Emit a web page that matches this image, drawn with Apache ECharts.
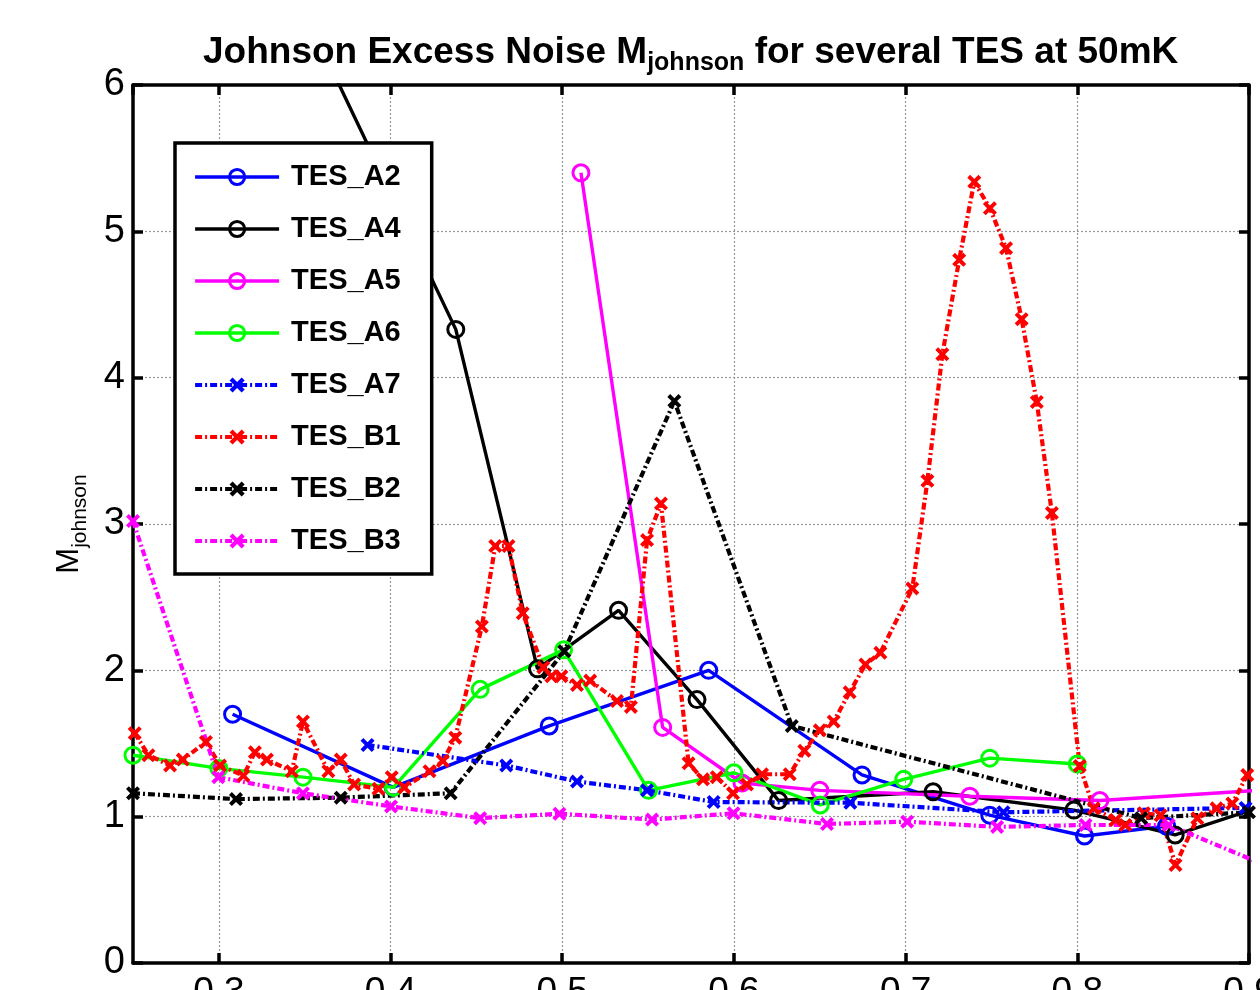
<!DOCTYPE html>
<html>
<head>
<meta charset="utf-8">
<script src="https://cdn.jsdelivr.net/npm/echarts@6/dist/echarts.min.js"></script>
<style>
  html, body { margin: 0; padding: 0; background: #ffffff; }
  #chart { width: 1260px; height: 990px; }
</style>
</head>
<body>
<div id="chart"></div>
<script>
// Johnson excess noise M_johnson versus bias point, several TES at 50 mK

// TES_A2
const a2X = [0.308, 0.4015, 0.4924, 0.5853, 0.6746, 0.749, 0.8042, 0.852];
const a2Y = [1.70, 1.20, 1.62, 2.00, 1.285, 1.01, 0.868, 0.935];
// TES_A4 (first point lies above the plotted range)
const a4X = [0.31, 0.438, 0.4856, 0.5328, 0.5785, 0.626, 0.716, 0.798, 0.857, 0.905];
const a4Y = [7.48, 4.33, 2.01, 2.41, 1.80, 1.11, 1.17, 1.045, 0.875, 1.06];
// TES_A5
const a5X = [0.5109, 0.5585, 0.6047, 0.65, 0.7374, 0.8131, 0.905];
const a5Y = [5.40, 1.61, 1.23, 1.18, 1.14, 1.11, 1.18];
// TES_A6
const a6X = [0.25, 0.30, 0.349, 0.4017, 0.4522, 0.5008, 0.5503, 0.60, 0.6503, 0.6989, 0.749, 0.80];
const a6Y = [1.42, 1.33, 1.27, 1.20, 1.87, 2.14, 1.18, 1.30, 1.08, 1.255, 1.40, 1.36];
// TES_A7
const a7X = [0.3866, 0.4674, 0.5086, 0.5494, 0.5882, 0.6678, 0.757, 0.898];
const a7Y = [1.49, 1.35, 1.24, 1.18, 1.10, 1.095, 1.03, 1.06];
// TES_B1
const b1X = [0.251, 0.259, 0.2716, 0.279, 0.2925, 0.3007, 0.3143, 0.321, 0.328, 0.3425,
             0.349, 0.3638, 0.371, 0.3788, 0.393, 0.4007, 0.408, 0.4227, 0.4305, 0.4377,
             0.4532, 0.461, 0.4687, 0.477, 0.489, 0.4937, 0.4995, 0.5086, 0.5163, 0.5319,
             0.540, 0.5494, 0.5575, 0.5736, 0.582, 0.590, 0.5995, 0.6076, 0.6164, 0.6325,
             0.641, 0.65, 0.6581, 0.6674, 0.6766, 0.6853, 0.7039, 0.7127, 0.7214, 0.7312,
             0.74, 0.7491, 0.7585, 0.7676, 0.7764, 0.7852, 0.8014, 0.8096, 0.8223, 0.828,
             0.8388, 0.8485, 0.8572, 0.8699, 0.8811, 0.8903, 0.899];
const b1Y = [1.57, 1.42, 1.35, 1.39, 1.51, 1.35, 1.28, 1.44, 1.39, 1.31,
             1.65, 1.31, 1.39, 1.22, 1.19, 1.27, 1.20, 1.31, 1.38, 1.54,
             2.30, 2.85, 2.85, 2.39, 2.02, 1.96, 1.96, 1.90, 1.93, 1.79,
             1.75, 2.89, 3.14, 1.365, 1.255, 1.27, 1.16, 1.22, 1.29, 1.29,
             1.45, 1.59, 1.65, 1.85, 2.04, 2.12, 2.56, 3.295, 4.16, 4.805,
             5.338, 5.158, 4.885, 4.40, 3.834, 3.075, 1.347, 1.057, 0.977, 0.943,
             1.023, 1.01, 0.67, 0.989, 1.057, 1.09, 1.285];
// TES_B2
const b2X = [0.25, 0.31, 0.371, 0.435, 0.5012, 0.5653, 0.6337, 0.8372, 0.9];
const b2Y = [1.16, 1.12, 1.13, 1.16, 2.13, 3.84, 1.62, 0.99, 1.03];
// TES_B3
const b3X = [0.25, 0.2997, 0.349, 0.4003, 0.4522, 0.4984, 0.5523, 0.5998, 0.6542, 0.7009, 0.7533, 0.8048, 0.8533, 0.905];
const b3Y = [3.02, 1.27, 1.16, 1.07, 0.99, 1.02, 0.98, 1.023, 0.95, 0.966, 0.93, 0.943, 0.943, 0.69];

const seriesNames = ['TES_A2', 'TES_A4', 'TES_A5', 'TES_A6', 'TES_A7', 'TES_B1', 'TES_B2', 'TES_B3'];
const seriesColors = ['#0000ff', '#000000', '#ff00ff', '#00ff00', '#0000ff', '#ff0000', '#000000', '#ff00ff'];
const xTickValues = [0.3, 0.4, 0.5, 0.6, 0.7, 0.8, 0.9];
const yTickValues = [0, 1, 2, 3, 4, 5, 6];

const FONT = '"Liberation Sans", Arial, Helvetica, sans-serif';
const CROSS = 'path://M0,2 L2,0 L5,3 L8,0 L10,2 L7,5 L10,8 L8,10 L5,7 L2,10 L0,8 L3,5 Z';
const DASH_DOT = [7, 3, 2, 3];

function pairs(xs, ys) { return xs.map((x, i) => [x, ys[i]]); }

function circleSeries(name, color, xs, ys) {
  return {
    name, type: 'line', data: pairs(xs, ys),
    symbol: 'circle', symbolSize: 16,
    itemStyle: { color: 'rgba(255,255,255,0)', borderColor: color, borderWidth: 3 },
    lineStyle: { color, width: 3.4, type: 'solid' },
    emphasis: { disabled: true }, animation: false
  };
}
function crossSeries(name, color, xs, ys) {
  return {
    name, type: 'line', data: pairs(xs, ys),
    symbol: CROSS, symbolSize: 14,
    itemStyle: { color },
    lineStyle: { color, width: 4.2, type: DASH_DOT },
    emphasis: { disabled: true }, animation: false
  };
}

const chart = echarts.init(document.getElementById('chart'), null, { renderer: 'canvas' });

const axisLineStyle = { color: '#000', width: 3.5 };
const tickStyle = { show: true, inside: true, length: 10, lineStyle: { color: '#000', width: 3.5 } };

chart.setOption({
  backgroundColor: '#ffffff',
  animation: false,
  textStyle: { fontFamily: FONT },
  title: {
    text: '{m|Johnson Excess Noise M}{s|johnson}{m| for several TES at 50mK}',
    left: 198, top: 29,
    textStyle: {
      rich: {
        m: { fontFamily: FONT, fontSize: 37, fontWeight: 'bold', color: '#000', lineHeight: 37, verticalAlign: 'top' },
        s: { fontFamily: FONT, fontSize: 25, fontWeight: 'bold', color: '#000', lineHeight: 25, verticalAlign: 'top', padding: [17, 0, 0, 0] }
      }
    }
  },
  grid: { left: 133, right: 11, top: 85, bottom: 27, containLabel: false, outerBoundsMode: 'none' },
  legend: {
    orient: 'vertical', left: 175, top: 143,
    data: seriesNames,
    itemWidth: 84, itemHeight: 19, itemGap: 22,
    padding: [19, 31, 18, 18],
    backgroundColor: '#ffffff', borderColor: '#000', borderWidth: 3.5,
    lineStyle: { width: 'inherit', type: 'inherit' },
    itemStyle: { borderWidth: 3 },
    textStyle: { fontFamily: FONT, fontSize: 29, fontWeight: 'bold', color: '#000', lineHeight: 30, padding: [0, 0, 0, 7] },
    selectedMode: false
  },
  xAxis: [
    {
      type: 'value', position: 'bottom', min: 0.25, max: 0.9,
      minInterval: 0.1, maxInterval: 0.1,
      axisLine: { show: true, onZero: false, lineStyle: axisLineStyle },
      axisTick: tickStyle,
      axisLabel: {
        show: true, margin: 11, fontFamily: FONT, fontSize: 37, color: '#000',
        showMinLabel: false,
        formatter: v => (xTickValues.some(t => Math.abs(t - v) < 1e-6) ? v.toFixed(1) : '')
      },
      splitLine: { show: true, lineStyle: { color: '#9a9a9a', width: 1.2, type: [2, 2] } }
    },
    {
      type: 'value', position: 'top', min: 0.25, max: 0.9,
      minInterval: 0.1, maxInterval: 0.1,
      axisLine: { show: true, onZero: false, lineStyle: axisLineStyle },
      axisTick: tickStyle,
      axisLabel: { show: false }, splitLine: { show: false }
    }
  ],
  yAxis: [
    {
      type: 'value', position: 'left', min: 0, max: 6, interval: 1,
      axisLine: { show: true, onZero: false, lineStyle: axisLineStyle },
      axisTick: tickStyle,
      axisLabel: {
        show: true, margin: 8, fontFamily: FONT, fontSize: 38, color: '#000',
        formatter: v => (yTickValues.includes(v) ? String(v) : '')
      },
      splitLine: { show: true, lineStyle: { color: '#9a9a9a', width: 1.2, type: [2, 2] } },
      name: '{m|M}{s|johnson}',
      nameLocation: 'middle', nameRotate: 90, nameGap: 48,
      nameTextStyle: {
        rich: {
          m: { fontFamily: FONT, fontSize: 31, color: '#000', lineHeight: 31, verticalAlign: 'top' },
          s: { fontFamily: FONT, fontSize: 21, color: '#000', lineHeight: 21, verticalAlign: 'top', padding: [16, 0, 0, 0] }
        }
      }
    },
    {
      type: 'value', position: 'right', min: 0, max: 6, interval: 1,
      axisLine: { show: true, onZero: false, lineStyle: axisLineStyle },
      axisTick: tickStyle,
      axisLabel: { show: false }, splitLine: { show: false }
    }
  ],
  series: [
    circleSeries('TES_A2', seriesColors[0], a2X, a2Y),
    circleSeries('TES_A4', seriesColors[1], a4X, a4Y),
    circleSeries('TES_A5', seriesColors[2], a5X, a5Y),
    circleSeries('TES_A6', seriesColors[3], a6X, a6Y),
    crossSeries('TES_A7', seriesColors[4], a7X, a7Y),
    crossSeries('TES_B1', seriesColors[5], b1X, b1Y),
    crossSeries('TES_B2', seriesColors[6], b2X, b2Y),
    crossSeries('TES_B3', seriesColors[7], b3X, b3Y)
  ]
});
</script>
</body>
</html>
